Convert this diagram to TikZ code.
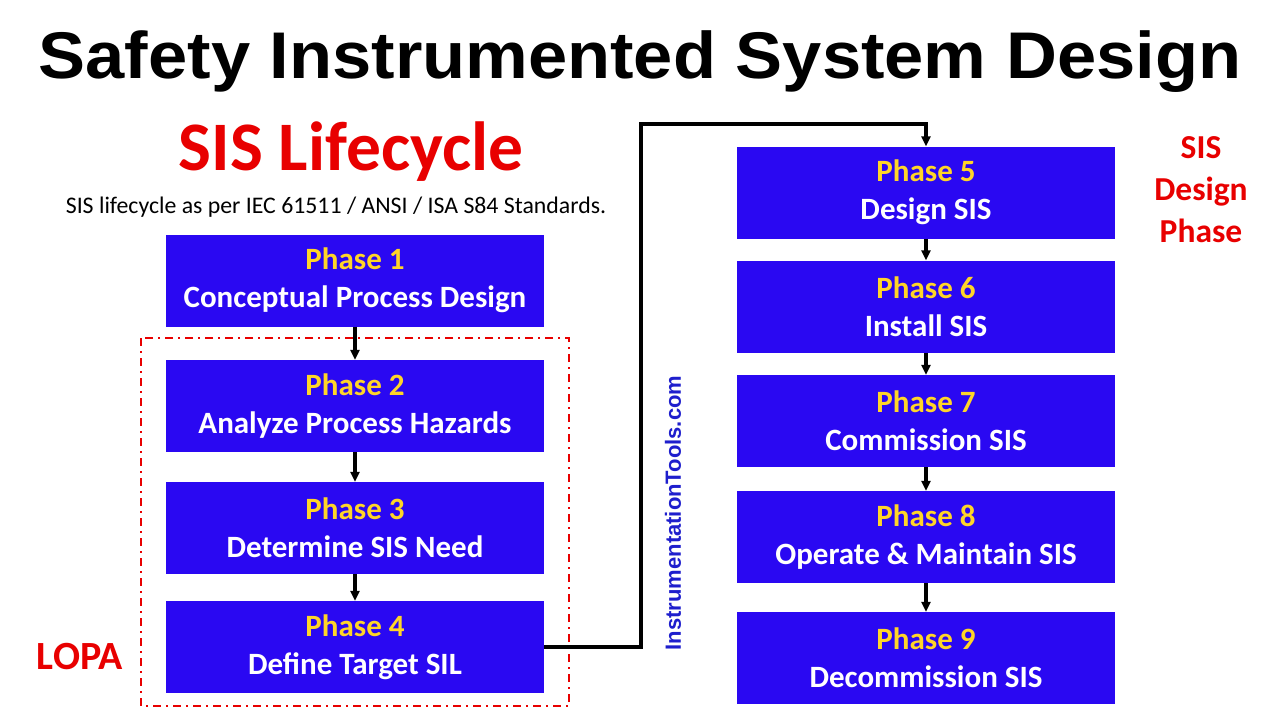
\documentclass[tikz,border=0pt]{standalone}
\usepackage{fontspec}
\setmainfont{Carlito}
\newfontfamily\titlefont{Liberation Sans}
\usetikzlibrary{arrows.meta}

\definecolor{sisblue}{RGB}{42,8,242}
\definecolor{sisyellow}{RGB}{255,213,40}
\definecolor{sisred}{RGB}{232,0,0}
\definecolor{webblue}{RGB}{30,30,205}

\tikzset{
	phase/.style={fill=sisblue, text=white, inner sep=0pt, align=center,
		minimum width=378pt, minimum height=92pt,
		font=\bfseries\fontsize{31}{38}\selectfont},
	link/.style={-{Triangle[length=10pt,width=9pt]}, line width=3.4pt}
}
\newcommand{\ph}[2]{{\color{sisyellow}Phase #1}\\#2}

\begin{document}
\begin{tikzpicture}[x=1pt, y=-1pt]
	\useasboundingbox[fill=white] (0,0) rectangle (1280,720);

	\node[anchor=base, font=\titlefont\bfseries\fontsize{66}{66}\selectfont] (title) at (640,78) {\scalebox{1.068}[1]{Safety Instrumented System Design}};
	\node[anchor=base, text=sisred, font=\bfseries\fontsize{69.5}{70}\selectfont] (life) at (351,170) {SIS Lifecycle};
	\node[anchor=base, font=\fontsize{23.8}{24}\selectfont] (std) at (336,213) {SIS lifecycle as per IEC 61511 / ANSI / ISA S84 Standards.};

	\draw[sisred, line width=2.8pt, dash pattern=on 8pt off 5pt on 2pt off 5pt] (141,338) rectangle (569,706);
	\node[anchor=base, text=sisred, font=\bfseries\fontsize{40}{40}\selectfont] (lopa) at (80,669) {LOPA};
	\node[text=sisred, align=center, font=\bfseries\fontsize{33.5}{42}\selectfont] (design) at (1201,190) {SIS\\Design\\Phase};
	\node[rotate=90, text=webblue, font=\titlefont\bfseries\fontsize{22}{22}\selectfont] (web) at (673,513) {InstrumentationTools.com};

	\node[phase] (1) at (355,280.5) {\ph{1}{Conceptual Process Design}};
	\node[phase] (2) at (355,406)   {\ph{2}{Analyze Process Hazards}};
	\node[phase] (3) at (355,528)   {\ph{3}{Determine SIS Need}};
	\node[phase] (4) at (355,647)   {\ph{4}{Define Target SIL}};
	\node[phase] (5) at (926,192.5) {\ph{5}{Design SIS}};
	\node[phase] (6) at (926,306.5) {\ph{6}{Install SIS}};
	\node[phase] (7) at (926,421)   {\ph{7}{Commission SIS}};
	\node[phase] (8) at (926,537)   {\ph{8}{Operate \& Maintain SIS}};
	\node[phase] (9) at (926,658)   {\ph{9}{Decommission SIS}};
	\coordinate (turn) at (641,124);

	\path [link] (1) edge (2);
	\path [link] (2) edge (3);
	\path [link] (3) edge (4);
	\draw [link] (4.east) -| (turn) -| (5.north);
	\path [link] (5) edge (6);
	\path [link] (6) edge (7);
	\path [link] (7) edge (8);
	\path [link] (8) edge (9);
\end{tikzpicture}
\end{document}
